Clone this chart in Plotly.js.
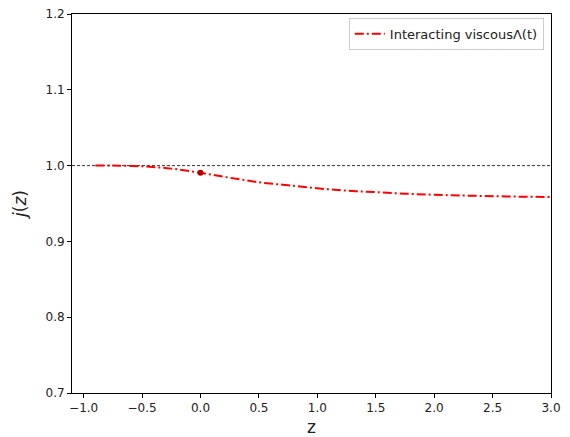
<!DOCTYPE html>
<html>
<head>
<meta charset="utf-8">
<script src="https://cdn.plot.ly/plotly-3.0.1.min.js"></script>
<style>html,body{margin:0;padding:0;background:#fff;}#chart{width:570px;height:437px;}</style>
</head>
<body>
<div id="chart"></div>
<script>
const zValues = [-0.9, -0.75, -0.5, -0.25, 0.0, 0.25, 0.5, 0.75, 1.0, 1.25, 1.5, 1.75, 2.0, 2.25, 2.5, 2.75, 3.0];
const jValues = [1.0, 1.0, 0.999, 0.996, 0.9905, 0.984, 0.978, 0.974, 0.970, 0.967, 0.965, 0.963, 0.9615, 0.9605, 0.9597, 0.959, 0.9585];
const markerZ = [0.0];
const markerJ = [0.9905];
const refZ = [-1.1, 3.0];
const refJ = [1.0, 1.0];
const seriesName = "Interacting viscousΛ(t)";
const xTicks = [-1.0, -0.5, 0.0, 0.5, 1.0, 1.5, 2.0, 2.5, 3.0];
const yTicks = [0.7, 0.8, 0.9, 1.0, 1.1, 1.2];

const font = "DejaVu Sans, sans-serif";
const traces = [
  {x: refZ, y: refJ, mode: "lines", line: {color: "black", width: 0.8, dash: "3px,2px"}, showlegend: false, hoverinfo: "skip"},
  {x: zValues, y: jValues, mode: "lines", name: seriesName, line: {color: "red", width: 2, dash: "9px,3px,2px,3px", shape: "spline"}},
  {x: markerZ, y: markerJ, mode: "markers", marker: {color: "#b00000", size: 6}, showlegend: false}
];
const layout = {
  width: 570, height: 437,
  margin: {l: 72, r: 19, t: 14, b: 44},
  paper_bgcolor: "white", plot_bgcolor: "white",
  font: {family: font, size: 12, color: "#222"},
  showlegend: true,
  legend: {x: 0.985, y: 0.99, xanchor: "right", yanchor: "top", bordercolor: "#cccccc", borderwidth: 1, bgcolor: "white", itemwidth: 30, font: {size: 13, family: font}},
  xaxis: {
    range: [-1.1, 3.0], tickvals: xTicks, ticktext: xTicks.map(v => v.toFixed(1).replace("-", "−")),
    showgrid: false, zeroline: false, showline: true, linecolor: "black", linewidth: 1, mirror: true,
    ticks: "outside", ticklen: 4, tickcolor: "black", tickfont: {size: 12, family: font},
    title: {text: "z", font: {size: 17, family: font}, standoff: 15}
  },
  yaxis: {
    range: [0.7, 1.2], tickvals: yTicks, ticktext: yTicks.map(v => v.toFixed(1)),
    showgrid: false, zeroline: false, showline: true, linecolor: "black", linewidth: 1, mirror: true,
    ticks: "outside", ticklen: 4, tickcolor: "black", tickfont: {size: 12, family: font},
    title: {text: "<i>j</i>(<i>z</i>)", font: {size: 17, family: font}, standoff: 14}
  }
};
Plotly.newPlot("chart", traces, layout, {displayModeBar: false, staticPlot: true});
</script>
</body>
</html>
